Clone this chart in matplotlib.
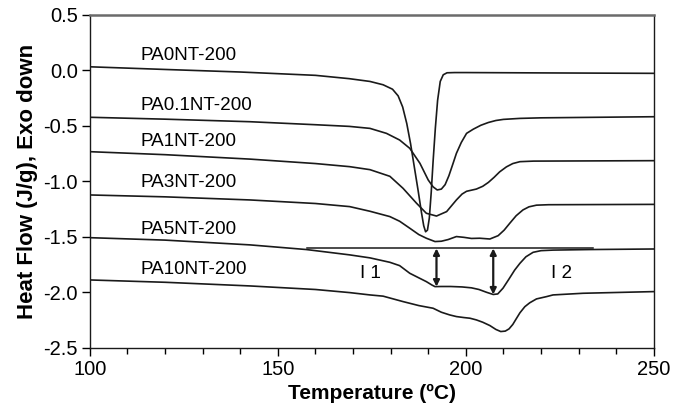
#!/usr/bin/env python3
"""DSC heating curves of PA/NT samples (recreated figure)."""

import matplotlib
matplotlib.use("Agg")
import matplotlib.pyplot as plt
from matplotlib.ticker import MultipleLocator

plt.rcParams["font.family"] = ["Liberation Sans", "DejaVu Sans"]
plt.rcParams["axes.unicode_minus"] = False

# --- data (temperature in degC, heat flow in J/g) ---
t_pa0 = [100, 120, 140, 160, 169, 174.5, 178, 180.5, 182, 183.2, 184.3, 185.3,
         186.3, 187.3, 188.2, 188.8, 189.3, 189.8, 190.3, 190.8, 191.3, 191.9,
         192.5, 193.2, 194.0, 195.0, 197, 200, 220, 250]
hf_pa0 = [0.032, 0.008, -0.015, -0.045, -0.075, -0.10, -0.13, -0.17, -0.23, -0.33,
          -0.48, -0.66, -0.87, -1.08, -1.28, -1.40, -1.455, -1.44, -1.33, -1.10,
          -0.82, -0.52, -0.27, -0.10, -0.04, -0.022, -0.02, -0.02, -0.023, -0.027]

t_pa01 = [100, 120, 142.6, 160, 169, 174.5, 178.9, 182.4, 185.1, 187.8, 190.0,
          191.3, 192.4, 193.5, 194.5, 195.5, 196.5, 197.5, 198.8, 200.2, 202,
          204, 206, 208, 210, 214.4, 220, 250]
hf_pa01 = [-0.423, -0.44, -0.463, -0.49, -0.505, -0.523, -0.568, -0.628, -0.703,
           -0.838, -0.988, -1.05, -1.078, -1.07, -1.03, -0.95, -0.85, -0.748,
           -0.65, -0.568, -0.53, -0.495, -0.47, -0.452, -0.442, -0.433, -0.428,
           -0.418]

t_pa1 = [100, 120, 142.6, 160, 169.1, 174.5, 179.8, 183.3, 186.9, 189.5, 192.2,
         194.9, 197.5, 199, 200.2, 202.8, 204.5, 206, 207.5, 209, 210.8, 212.5,
         214.4, 218, 250]
hf_pa1 = [-0.733, -0.76, -0.80, -0.84, -0.868, -0.895, -0.955, -1.063, -1.198,
          -1.288, -1.313, -1.273, -1.168, -1.115, -1.09, -1.07, -1.045, -1.01,
          -0.965, -0.915, -0.87, -0.84, -0.823, -0.818, -0.814]

t_pa3 = [100, 120, 142.6, 160, 169.1, 174.5, 179.8, 182.4, 185.1, 187.5, 189.5,
         191.8, 193.5, 195.3, 197.5, 199.5, 201.5, 203.7, 206.4, 208.6, 210.2,
         211.7, 213.4, 215.2, 216.8, 218.8, 222, 250]
hf_pa3 = [-1.123, -1.14, -1.168, -1.20, -1.228, -1.27, -1.318, -1.36, -1.423,
          -1.48, -1.513, -1.543, -1.54, -1.525, -1.498, -1.505, -1.515, -1.513,
          -1.52, -1.49, -1.44, -1.378, -1.31, -1.258, -1.23, -1.215, -1.211,
          -1.208]

t_pa5 = [100, 120, 142.6, 157.6, 169.1, 174.5, 179.8, 182.4, 185.1, 187.5, 189.5,
         191.0, 191.8, 193.5, 196, 199, 201.5, 203.5, 205.5, 207.3, 208.5, 209.9,
         211.5, 213, 214.4, 216, 217.9, 220, 223.2, 233, 250]
hf_pa5 = [-1.508, -1.53, -1.573, -1.615, -1.663, -1.69, -1.73, -1.76, -1.829,
          -1.87, -1.904, -1.935, -1.949, -1.948, -1.948, -1.952, -1.96, -1.975,
          -2.0, -2.02, -2.015, -1.963, -1.88, -1.80, -1.739, -1.68, -1.64,
          -1.625, -1.62, -1.615, -1.61]

t_pa10 = [100, 120, 142.6, 160, 169.1, 174.5, 178, 183.3, 187.5, 191.3, 193.5,
          195.7, 197.5, 199.5, 201.1, 202.8, 204.5, 206.4, 208, 209.3, 210.5,
          211.5, 212.5, 213.4, 214.4, 215.7, 217, 218.8, 221.5, 223.2, 231.2, 250]
hf_pa10 = [-1.889, -1.91, -1.943, -1.975, -2.003, -2.024, -2.035, -2.084, -2.12,
           -2.144, -2.18, -2.204, -2.219, -2.228, -2.234, -2.249, -2.27, -2.3,
           -2.335, -2.354, -2.35, -2.33, -2.29, -2.24, -2.185, -2.13, -2.095,
           -2.06, -2.039, -2.024, -2.009, -1.994]

labels = ["PA0NT-200", "PA0.1NT-200", "PA1NT-200", "PA3NT-200", "PA5NT-200",
          "PA10NT-200"]
label_y = [0.138, -0.313, -0.643, -1.013, -1.432, -1.799]
label_x = 113.5

# baseline drawn under PA5NT and the two intensity arrows
base_x = [157.7, 233.8]
base_y = -1.605
arrow_x = [192.2, 207.3]
arrow_bottom = [-1.949, -2.02]
arrow_text = ["I 1", "I 2"]
arrow_text_x = [174.7, 225.5]
arrow_text_y = -1.83


def main() -> None:
    fig = plt.figure(figsize=(6.81, 4.13), dpi=100)
    ax = fig.add_axes([0.132, 0.158, 0.828, 0.806])

    curves = [(t_pa0, hf_pa0), (t_pa01, hf_pa01), (t_pa1, hf_pa1),
              (t_pa3, hf_pa3), (t_pa5, hf_pa5), (t_pa10, hf_pa10)]
    for t, hf in curves:
        ax.plot(t, hf, color="#1a1a1a", lw=1.2, solid_joinstyle="round")

    for name, y in zip(labels, label_y):
        ax.text(label_x, y, name, ha="left", va="center", fontsize=13.6)

    ax.plot(base_x, [base_y, base_y], color="#1a1a1a", lw=1.1)
    for x, yb in zip(arrow_x, arrow_bottom):
        ax.annotate("", xy=(x, yb), xytext=(x, base_y),
                    arrowprops=dict(arrowstyle="<|-|>", color="#1a1a1a", lw=1.6,
                                    mutation_scale=9, shrinkA=0, shrinkB=0))
    for s, x in zip(arrow_text, arrow_text_x):
        ax.text(x, arrow_text_y, s, ha="center", va="center", fontsize=13.6)

    ax.set_xlim(100, 250)
    ax.set_ylim(-2.5, 0.5)
    ax.xaxis.set_major_locator(MultipleLocator(50))
    ax.xaxis.set_minor_locator(MultipleLocator(10))
    ax.yaxis.set_major_locator(MultipleLocator(0.5))
    ax.yaxis.set_major_formatter(lambda v, pos: f"{v:.1f}")
    ax.tick_params(axis="both", which="major", direction="out", length=5.5,
                   width=1, labelsize=14.5, pad=3)
    ax.tick_params(axis="x", which="minor", direction="out", length=4, width=1)
    ax.tick_params(top=False, right=False)

    ax.spines["top"].set_color("#6b6b6b")
    ax.spines["top"].set_linewidth(1.8)
    for side in ["left", "right", "bottom"]:
        ax.spines[side].set_color("#1a1a1a")
        ax.spines[side].set_linewidth(1.0)

    ax.set_xlabel("Temperature (ºC)", fontsize=15, fontweight="bold", labelpad=4)
    ax.set_ylabel("Heat Flow (J/g), Exo down", fontsize=16, fontweight="bold",
                  labelpad=4)

    fig.savefig("out.png", dpi=100)
    plt.close(fig)


if __name__ == "__main__":
    main()
